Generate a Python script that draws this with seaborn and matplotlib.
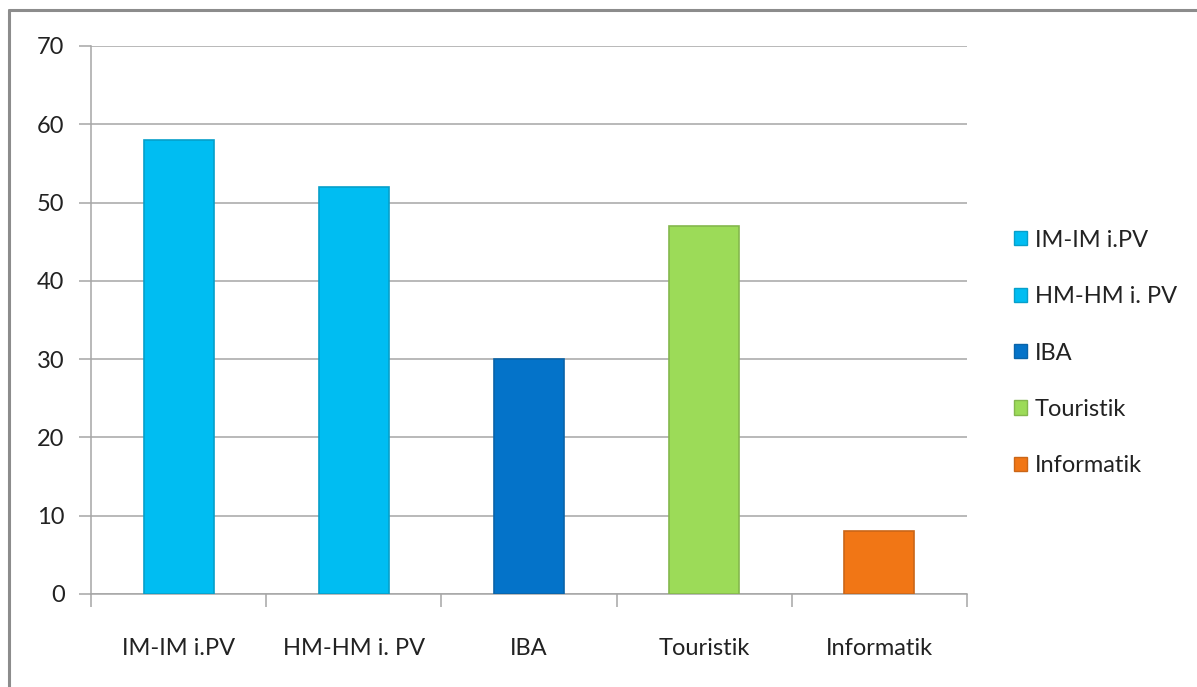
import matplotlib
matplotlib.use("Agg")
import matplotlib.pyplot as plt
from matplotlib.lines import Line2D
from matplotlib.patches import Patch
import seaborn as sns

#Chart data
programmes = ["IM-IM i.PV", "HM-HM i. PV", "IBA", "Touristik", "Informatik"]
counts = [58, 52, 30, 47, 8]
bar_colours = ["#00BDF2", "#00BDF2", "#0473C9", "#9CDB58", "#F17615"]
y_ticks = [0, 10, 20, 30, 40, 50, 60, 70]

sns.set_theme(style="white")
plt.rcParams["font.family"] = ["Lato", "DejaVu Sans"]

fig = plt.figure(figsize=(11.97, 6.87), dpi=100)
ax = fig.add_axes([91 / 1197, 1 - 594 / 687, (967 - 91) / 1197, (594 - 46) / 687])

sns.barplot(
    x=programmes,
    y=counts,
    hue=programmes,
    palette=bar_colours,
    saturation=1,
    width=0.4,
    legend=False,
    ax=ax,
    zorder=3,
)

#Darker edge on the bars, a bit like the excel bevel
for patch, col in zip(ax.patches, bar_colours):
    patch.set_edgecolor(sns.dark_palette(col, 6)[4])
    patch.set_linewidth(1.2)

ax.set_xlim(-0.5, len(programmes) - 0.5)
ax.set_ylim(0, 70)
ax.set_yticks(y_ticks)
ax.set_yticklabels([str(v) for v in y_ticks])

#Gridlines
ax.yaxis.grid(True, color="#A6A6A6", linewidth=1.1, zorder=0)
ax.xaxis.grid(False)

#Spines
for s in ["top", "right"]:
    ax.spines[s].set_visible(False)
for s in ["left", "bottom"]:
    ax.spines[s].set_color("#A6A6A6")
    ax.spines[s].set_linewidth(1.1)

#Ticks: labels at centre, marks at the category boundaries
ax.tick_params(axis="y", length=9, width=1.1, color="#A6A6A6", labelsize=17,
               labelcolor="#222222", pad=10, left=True)
ax.tick_params(axis="x", which="major", length=0, labelsize=17,
               labelcolor="#222222", pad=32)
ax.set_xticks([i - 0.5 for i in range(len(programmes) + 1)], minor=True)
ax.tick_params(axis="x", which="minor", length=9, width=1.1, color="#A6A6A6",
               bottom=True)
ax.set_xlabel("")
ax.set_ylabel("")

#Legend
handles = [Patch(facecolor=c, edgecolor=sns.dark_palette(c, 6)[4]) for c in bar_colours]
fig.legend(
    handles, programmes,
    loc="center left",
    bbox_to_anchor=(1002 / 1197, 1 - 353 / 687),
    frameon=False,
    fontsize=17,
    handlelength=0.55,
    handleheight=0.55,
    handletextpad=0.35,
    labelspacing=1.5,
    borderpad=0,
    labelcolor="#222222",
)

#Outer chart border (left and top visible)
fig.add_artist(Line2D([9 / 1197, 9 / 1197], [0, 1 - 10 / 687],
                      transform=fig.transFigure, color="#8C8C8C", linewidth=2.2))
fig.add_artist(Line2D([9 / 1197, 1], [1 - 10 / 687, 1 - 10 / 687],
                      transform=fig.transFigure, color="#8C8C8C", linewidth=2.2))

plt.savefig("out.png", dpi=100)
